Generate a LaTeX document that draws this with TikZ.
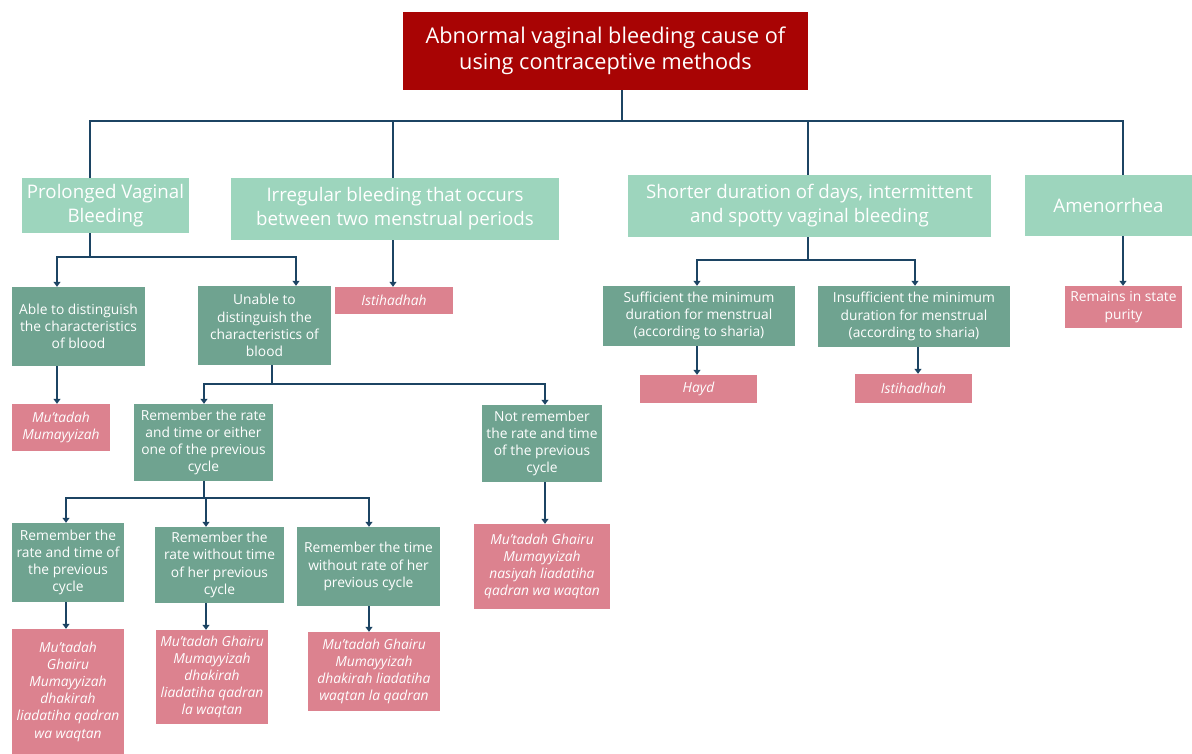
\documentclass[tikz,border=0pt]{standalone}
\usepackage{fontspec}
\setmainfont{Open Sans}
\usetikzlibrary{arrows.meta}
\definecolor{rootc}{HTML}{A80404}
\definecolor{lgreen}{HTML}{9DD5BD}
\definecolor{dteal}{HTML}{6FA390}
\definecolor{pinkc}{HTML}{DC828F}
\definecolor{navy}{HTML}{1C4463}
\tikzset{
  box/.style={rectangle, inner sep=0pt, align=center, text=white, anchor=center},
  rootbox/.style={box, fill=rootc, font=\fontsize{21.7}{26.5}\selectfont},
  catbox/.style={box, fill=lgreen, font=\fontsize{18.7}{24}\selectfont},
  condbox/.style={box, fill=dteal, font=\fontsize{13.8}{17.2}\selectfont},
  resbox/.style={box, fill=pinkc, font=\fontsize{13.8}{17.2}\selectfont\itshape},
  conn/.style={draw=navy, line width=2pt},
  arr/.style={conn, -{Triangle[width=7pt,length=5pt]}}
}
\begin{document}
\begin{tikzpicture}[x=1pt,y=-1pt]
\useasboundingbox (0,0) rectangle (1192,754);
% level 0
\node[rootbox, minimum width=405, minimum height=78] (root) at (605.5,51) {Abnormal vaginal bleeding cause of\\using contraceptive methods};
% level 1
\node[catbox, minimum width=167, minimum height=55] (pvb) at (105.5,205.5) {Prolonged Vaginal\\Bleeding};
\node[catbox, minimum width=328, minimum height=62] (irr) at (395,209) {Irregular bleeding that occurs\\between two menstrual periods};
\node[catbox, minimum width=363, minimum height=62] (sho) at (809.5,206) {Shorter duration of days, intermittent\\and spotty vaginal bleeding};
\node[catbox, minimum width=167, minimum height=61] (ame) at (1108.5,205.5) {Amenorrhea};
% level 2
\node[condbox, minimum width=133, minimum height=79] (able) at (78.5,326.5) {Able to distinguish\\the characteristics\\of blood};
\node[condbox, minimum width=133, minimum height=79] (unable) at (264.5,325.5) {Unable to\\distinguish the\\characteristics of\\blood};
\node[resbox, minimum width=118, minimum height=27] (ist1) at (394,300.5) {Istihadhah};
\node[condbox, minimum width=192, minimum height=60] (suf) at (699,316) {Sufficient the minimum\\duration for menstrual\\(according to sharia)};
\node[condbox, minimum width=192, minimum height=61] (insuf) at (914,316.5) {Insufficient the minimum\\duration for menstrual\\(according to sharia)};
\node[resbox, minimum width=117, minimum height=42, font=\fontsize{13.8}{17.2}\selectfont] (rem) at (1123.5,307) {Remains in state\\purity};
\node[resbox, minimum width=117, minimum height=28] (hayd) at (698.5,389) {Hayd};
\node[resbox, minimum width=117, minimum height=29] (ist2) at (913.5,388.5) {Istihadhah};
% level 3
\node[resbox, minimum width=98, minimum height=47] (mm) at (61,427.5) {Mu'tadah\\Mumayyizah};
\node[condbox, minimum width=139, minimum height=77] (rrt) at (203.5,442.5) {Remember the rate\\and time or either\\one of the previous\\cycle};
\node[condbox, minimum width=120, minimum height=77] (nr) at (542,443.5) {Not remember\\the rate and time\\of the previous\\cycle};
\node[resbox, minimum width=136, minimum height=85] (nrres) at (542,566.5) {Mu'tadah Ghairu\\Mumayyizah\\nasiyah liadatiha\\qadran wa waqtan};
% level 4
\node[condbox, minimum width=112, minimum height=79] (r1) at (68,562.5) {Remember the\\rate and time of\\the previous\\cycle};
\node[condbox, minimum width=129, minimum height=76] (r2) at (219.5,565) {Remember the\\rate without time\\of her previous\\cycle};
\node[condbox, minimum width=143, minimum height=79] (r3) at (368.5,566.5) {Remember the time\\without rate of her\\previous cycle};
\node[resbox, minimum width=112, minimum height=125] (r1res) at (68,691.5) {Mu'tadah\\Ghairu\\Mumayyizah\\dhakirah\\liadatiha qadran\\wa waqtan};
\node[resbox, minimum width=112, minimum height=94] (r2res) at (212,677) {Mu'tadah Ghairu\\Mumayyizah\\dhakirah\\liadatiha qadran\\la waqtan};
\node[resbox, minimum width=132, minimum height=79] (r3res) at (374,671.5) {Mu'tadah Ghairu\\Mumayyizah\\dhakirah liadatiha\\waqtan la qadran};
% connectors level 0 -> 1
\draw[conn] ([xshift=16.5]root.south) -- ++(0,31) -| ([xshift=-15.5]pvb.north);
\draw[conn] ([xshift=16.5]root.south) -- ++(0,31) -| ([xshift=-2]irr.north);
\draw[conn] ([xshift=16.5]root.south) -- ++(0,31) -| ([xshift=-1.5]sho.north);
\draw[conn] ([xshift=16.5]root.south) -- ++(0,31) -| ([xshift=14.5]ame.north);
% level 1 -> 2
\draw[arr] ([xshift=-15.5]pvb.south) -- ++(0,24) -| ([xshift=-21.5]able.north);
\draw[arr] ([xshift=-15.5]pvb.south) -- ++(0,24) -| ([xshift=31.5]unable.north);
\draw[arr] ([xshift=-2]irr.south) -- ([xshift=-2]irr.south |- ist1.north);
\draw[arr] ([xshift=-1.5]sho.south) -- ++(0,23) -| ([xshift=-2]suf.north);
\draw[arr] ([xshift=-1.5]sho.south) -- ++(0,23) -| ([xshift=1]insuf.north);
\draw[arr] ([xshift=14.5]ame.south) -- ([xshift=14.5]ame.south |- rem.north);
\draw[arr] ([xshift=-2]suf.south) -- ([xshift=-2]suf.south |- hayd.north);
\draw[arr] ([xshift=4]insuf.south) -- ([xshift=4]insuf.south |- ist2.north);
% level 2 -> 3
\draw[arr] ([xshift=-21.5]able.south) -- ([xshift=-21.5]able.south |- mm.north);
\draw[arr] ([xshift=7.5]unable.south) -- ++(0,19) -| ([xshift=0.5]rrt.north);
\draw[arr] ([xshift=7.5]unable.south) -- ++(0,19) -| ([xshift=3]nr.north);
\draw[arr] ([xshift=3]nr.south) -- ([xshift=3]nr.south |- nrres.north);
% level 3 -> 4
\draw[arr] ([xshift=0.5]rrt.south) -- ++(0,17) -| ([xshift=-2]r1.north);
\draw[arr] ([xshift=0.5]rrt.south) -- ++(0,17) -| ([xshift=-13.5]r2.north);
\draw[arr] ([xshift=0.5]rrt.south) -- ++(0,17) -| ([xshift=0.5]r3.north);
\draw[arr] ([xshift=-2]r1.south) -- ([xshift=-2]r1.south |- r1res.north);
\draw[arr] ([xshift=-13.5]r2.south) -- ([xshift=-13.5]r2.south |- r2res.north);
\draw[arr] ([xshift=0.5]r3.south) -- ([xshift=0.5]r3.south |- r3res.north);
\end{tikzpicture}
\end{document}
